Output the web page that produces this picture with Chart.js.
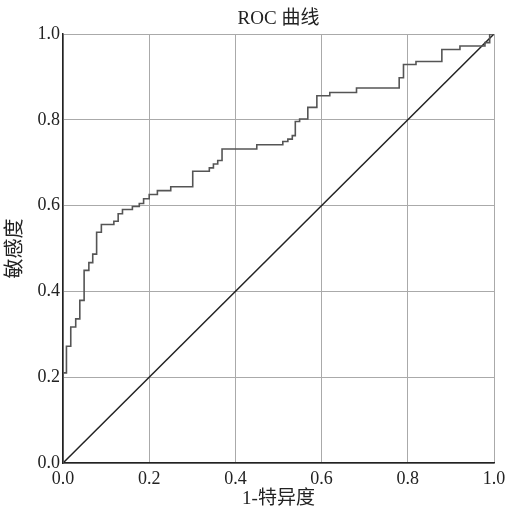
<!DOCTYPE html>
<html>
<head>
<meta charset="utf-8">
<script src="https://cdn.jsdelivr.net/npm/chart.js@4"></script>
<style>
  html, body { margin: 0; padding: 0; background: #fff; }
  #c { display: block; }
</style>
</head>
<body>
<canvas id="c" width="505" height="510"></canvas>
<script>
// ROC curve corner points (1-specificity, sensitivity)
const fpr = [0, 0, 0.008, 0.018, 0.0295, 0.039, 0.049, 0.06, 0.069, 0.078, 0.089,
  0.118, 0.128, 0.138, 0.161, 0.177, 0.187, 0.2, 0.219, 0.25, 0.301, 0.3395,
  0.349, 0.359, 0.369, 0.4496, 0.51, 0.5217, 0.532, 0.539, 0.549, 0.568,
  0.589, 0.619, 0.681, 0.78, 0.79, 0.819, 0.879, 0.921, 0.979, 0.99, 1.0];
const tpr = [0, 0.21, 0.272, 0.317, 0.336, 0.379, 0.449, 0.467, 0.487, 0.538, 0.556,
  0.5635, 0.581, 0.591, 0.598, 0.605, 0.616, 0.626, 0.635, 0.644, 0.68, 0.688,
  0.697, 0.705, 0.732, 0.742, 0.7495, 0.755, 0.763, 0.796, 0.802, 0.829,
  0.856, 0.8636, 0.874, 0.898, 0.929, 0.936, 0.964, 0.972, 0.98, 1.0, 1.0];
// reference diagonal
const refX = [0, 1];
const refY = [0, 1];
const tickVals = [0, 0.2, 0.4, 0.6, 0.8, 1.0];

const serif = '"Liberation Serif", "Times New Roman", "Noto Sans CJK SC", serif';

const toPoints = (xs, ys) => xs.map((x, i) => ({ x: x, y: ys[i] }));

new Chart(document.getElementById('c'), {
  type: 'scatter',
  data: {
    datasets: [{
      label: 'ROC',
      data: toPoints(fpr, tpr),
      showLine: true,
      stepped: true,
      borderColor: '#555555',
      borderWidth: 1.6,
      pointRadius: 0,
    }, {
      label: 'ref',
      data: toPoints(refX, refY),
      showLine: true,
      borderColor: '#222222',
      borderWidth: 1.5,
      pointRadius: 0,
    }]
  },
  options: {
    responsive: false,
    animation: false,
    layout: { padding: { left: 0, right: 11, top: 0, bottom: 0 } },
    plugins: {
      legend: { display: false },
      tooltip: { enabled: false },
    },
    scales: {
      // top axis only carries the chart title, centred over the plot
      top: {
        type: 'linear',
        position: 'top',
        min: 0,
        max: 1,
        afterFit: (s) => { s.height = 34; s.paddingLeft = 0; s.paddingRight = 0; },
        grid: { display: false },
        border: { display: false },
        ticks: { display: false },
        title: {
          display: true,
          text: 'ROC 曲线',
          color: '#222',
          font: { family: serif, size: 19 },
          padding: { top: 8, bottom: 0 },
        },
      },
      x: {
        type: 'linear',
        min: 0,
        max: 1,
        afterBuildTicks: (s) => { s.ticks = tickVals.map(v => ({ value: v })); },
        afterFit: (s) => { s.height = 47; s.paddingLeft = 0; s.paddingRight = 0; },
        grid: { color: '#aaaaaa', lineWidth: 1, drawTicks: false },
        border: { color: '#222222', width: 1.5 },
        ticks: {
          padding: 5,
          color: '#222',
          font: { family: serif, size: 18 },
          maxRotation: 0,
          callback: (v) => v.toFixed(1),
        },
        title: {
          display: true,
          text: '1-特异度',
          color: '#222',
          font: { family: serif, size: 19 },
          padding: { top: 0, bottom: 0 },
        },
      },
      y: {
        type: 'linear',
        min: 0,
        max: 1,
        afterBuildTicks: (s) => { s.ticks = tickVals.map(v => ({ value: v })); },
        afterFit: (s) => { s.width = 63; s.paddingTop = 0; s.paddingBottom = 0; },
        grid: { color: '#aaaaaa', lineWidth: 1, drawTicks: false },
        border: { color: '#222222', width: 1.5 },
        ticks: {
          padding: 3,
          color: '#222',
          font: { family: serif, size: 18 },
          callback: (v) => v.toFixed(1),
        },
        title: {
          display: true,
          text: '敏感度',
          color: '#222',
          font: { family: serif, size: 20 },
          padding: { top: 4, bottom: 0 },
        },
      },
    },
  },
});
</script>
</body>
</html>
